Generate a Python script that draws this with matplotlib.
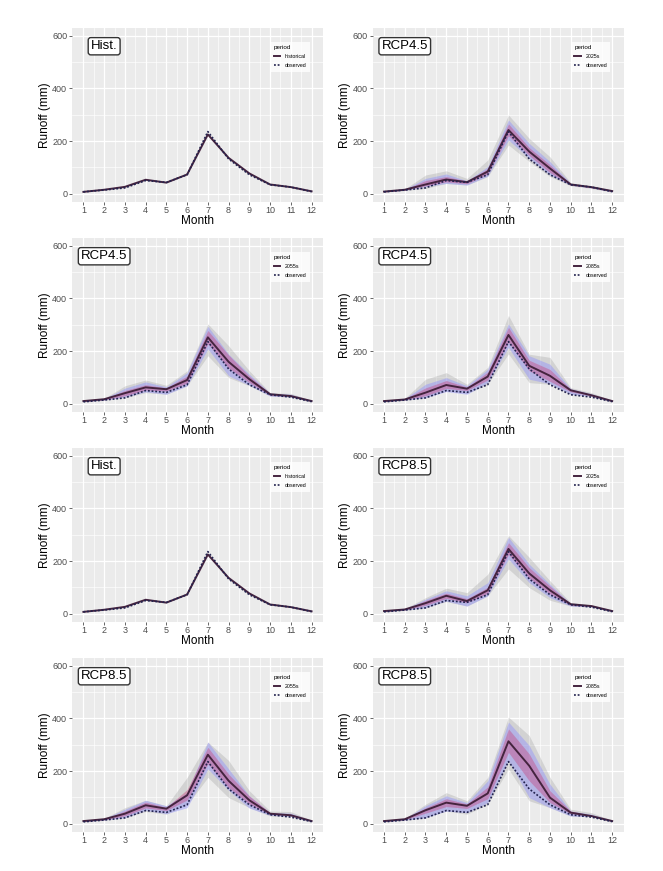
#!/usr/bin/env python3
import matplotlib
matplotlib.use("Agg")
import matplotlib.pyplot as plt
import numpy as np

plt.rcParams['font.family'] = ['Liberation Sans', 'DejaVu Sans']

# Data
MONTHS = list(range(1, 13))
OBSERVED = [7, 14, 22, 50, 43, 72, 236, 132, 72, 34, 25, 8]
HISTORICAL = [7, 15, 26, 53, 42, 73, 225, 136, 77, 35, 25, 9]

# mean line plus three ribbons (grey outer, blue middle, pink inner) per scenario
RCP45_2025 = {
    "mean":    [8, 15, 35, 54, 44, 84, 242, 160, 96, 35, 25, 10],
    "grey_lo": [6, 12, 20, 39, 33, 65, 185, 122, 65, 30, 20, 6],
    "grey_hi": [11, 18, 71, 87, 58, 128, 299, 210, 140, 42, 28, 12],
    "blue_lo": [7, 13, 27, 39, 33, 67, 204, 134, 71, 32, 22, 7],
    "blue_hi": [10, 17, 58, 75, 49, 103, 280, 191, 122, 39, 27, 11],
    "pink_lo": [7, 14, 30, 45, 38, 75, 220, 145, 80, 33, 23, 8],
    "pink_hi": [9, 16, 50, 65, 48, 95, 265, 175, 110, 37, 26, 10],
}
RCP45_2055 = {
    "mean":    [10, 17, 40, 62, 55, 90, 252, 159, 93, 36, 29, 10],
    "grey_lo": [7, 13, 23, 42, 36, 68, 182, 99, 68, 29, 25, 7],
    "grey_hi": [13, 20, 68, 90, 70, 125, 303, 220, 125, 42, 39, 13],
    "blue_lo": [8, 14, 25, 45, 36, 68, 208, 106, 70, 29, 26, 8],
    "blue_hi": [12, 19, 59, 83, 64, 118, 294, 188, 112, 40, 36, 12],
    "pink_lo": [9, 15, 30, 52, 48, 78, 227, 135, 80, 32, 27, 9],
    "pink_hi": [11, 18, 50, 72, 60, 105, 278, 185, 105, 39, 32, 11],
}
RCP45_2085 = {
    "mean":    [10, 16, 42, 71, 57, 103, 261, 144, 106, 51, 32, 10],
    "grey_lo": [7, 13, 23, 48, 38, 74, 189, 80, 74, 36, 27, 7],
    "grey_hi": [13, 20, 93, 118, 74, 138, 335, 188, 176, 61, 42, 13],
    "blue_lo": [8, 14, 23, 46, 36, 80, 214, 93, 76, 36, 28, 8],
    "blue_hi": [12, 19, 74, 99, 68, 131, 303, 182, 150, 57, 38, 12],
    "pink_lo": [9, 15, 30, 58, 50, 90, 233, 125, 85, 45, 30, 9],
    "pink_hi": [11, 18, 60, 88, 63, 120, 290, 165, 130, 55, 35, 11],
}
RCP85_2025 = {
    "mean":    [10, 16, 40, 68, 48, 89, 246, 153, 89, 36, 29, 10],
    "grey_lo": [7, 13, 23, 46, 29, 68, 170, 99, 51, 29, 25, 7],
    "grey_hi": [13, 19, 61, 97, 80, 150, 297, 214, 125, 42, 33, 13],
    "blue_lo": [8, 14, 23, 48, 29, 68, 208, 118, 61, 29, 26, 8],
    "blue_hi": [12, 18, 55, 87, 68, 118, 290, 188, 112, 38, 32, 12],
    "pink_lo": [9, 15, 32, 58, 42, 78, 225, 135, 75, 32, 27, 9],
    "pink_hi": [11, 17, 50, 78, 57, 100, 270, 175, 105, 37, 31, 11],
}
RCP85_2055 = {
    "mean":    [10, 17, 38, 70, 57, 108, 262, 163, 89, 38, 32, 10],
    "grey_lo": [7, 13, 23, 46, 36, 71, 176, 99, 61, 29, 27, 7],
    "grey_hi": [13, 20, 61, 89, 68, 176, 310, 240, 125, 48, 46, 13],
    "blue_lo": [8, 14, 23, 51, 38, 61, 208, 127, 59, 32, 28, 8],
    "blue_hi": [12, 19, 55, 89, 68, 118, 310, 208, 106, 42, 40, 12],
    "pink_lo": [9, 15, 30, 60, 50, 90, 227, 137, 75, 35, 30, 9],
    "pink_hi": [11, 18, 48, 82, 62, 130, 290, 188, 105, 42, 36, 11],
}
RCP85_2085 = {
    "mean":    [10, 17, 51, 80, 68, 115, 313, 220, 99, 42, 29, 10],
    "grey_lo": [7, 13, 23, 48, 36, 74, 208, 87, 61, 29, 27, 7],
    "grey_hi": [13, 20, 74, 118, 87, 176, 405, 335, 176, 55, 42, 13],
    "blue_lo": [8, 14, 23, 48, 42, 80, 240, 99, 61, 29, 27, 8],
    "blue_hi": [12, 19, 68, 106, 80, 163, 386, 297, 150, 48, 36, 12],
    "pink_lo": [9, 15, 40, 65, 58, 95, 271, 163, 80, 38, 28, 9],
    "pink_hi": [11, 18, 60, 95, 75, 140, 360, 265, 125, 48, 32, 11],
}

PANELS = [
    ("Hist.", "historical", None),
    ("RCP4.5", "2025s", RCP45_2025),
    ("RCP4.5", "2055s", RCP45_2055),
    ("RCP4.5", "2085s", RCP45_2085),
    ("Hist.", "historical", None),
    ("RCP8.5", "2025s", RCP85_2025),
    ("RCP8.5", "2055s", RCP85_2055),
    ("RCP8.5", "2085s", RCP85_2085),
]

W, H = 663, 871
MEAN_COLOR = '#45243f'
OBS_COLOR = '#23234f'


def style_axes(ax):
    ax.set_facecolor('#ebebeb')
    for s in ax.spines.values():
        s.set_visible(False)
    ax.set_xlim(0.45, 12.55)
    ax.set_ylim(-30, 630)
    ax.set_xticks(MONTHS)
    ax.set_xticks(np.arange(1.5, 12, 1), minor=True)
    ax.set_yticks([0, 200, 400, 600])
    ax.set_yticks([100, 300, 500], minor=True)
    ax.grid(True, which='major', color='white', linewidth=0.9)
    ax.grid(True, which='minor', color='white', linewidth=0.45)
    ax.set_axisbelow(True)
    ax.tick_params(which='major', length=2, width=0.6, color='#4d4d4d',
                   labelsize=6.5, labelcolor='#4d4d4d', pad=1.5)
    ax.tick_params(which='minor', length=0)
    ax.set_xlabel('Month', fontsize=8.5, labelpad=0)
    ax.set_ylabel('Runoff (mm)', fontsize=8.5, labelpad=1)


def main():
    fig = plt.figure(figsize=(W / 100, H / 100), dpi=100)
    fig.patch.set_facecolor('white')

    lefts = [72, 372.6]
    width = 251
    height = 173.8
    for i, (label, period, d) in enumerate(PANELS):
        row, col = i // 2, i % 2
        top = 27.8 + 210 * row
        ax = fig.add_axes([lefts[col] / W, 1 - (top + height) / H, width / W, height / H])
        style_axes(ax)

        if d is None:
            ax.plot(MONTHS, HISTORICAL, '-', color=MEAN_COLOR, linewidth=1.4, label=period)
        else:
            ax.fill_between(MONTHS, d["grey_lo"], d["grey_hi"], color='#999999', alpha=0.3, linewidth=0)
            ax.fill_between(MONTHS, d["blue_lo"], d["blue_hi"], color='#8c8cff', alpha=0.42, linewidth=0)
            ax.fill_between(MONTHS, d["pink_lo"], d["pink_hi"], color='#c8407a', alpha=0.4, linewidth=0)
            ax.plot(MONTHS, d["mean"], '-', color=MEAN_COLOR, linewidth=1.4, label=period)
        ax.plot(MONTHS, OBSERVED, linestyle=(0, (1.1, 1.1)), color=OBS_COLOR,
                linewidth=1.2, label='observed')

        ax.text(2, 560, label, ha='center', va='center', fontsize=9.5,
                bbox=dict(boxstyle='round,pad=0.2', facecolor='white',
                          edgecolor='#333333', linewidth=1.0))

        leg = ax.legend(title='period', loc='upper left', bbox_to_anchor=(0.78, 0.935),
                        fontsize=3.8, title_fontsize=4.5, frameon=True, fancybox=False,
                        handlelength=1.3, borderpad=0.6, labelspacing=0.8,
                        alignment='left')
        leg.get_frame().set_edgecolor('white')
        leg.get_frame().set_linewidth(0)

    plt.savefig('out.png', dpi=100)


if __name__ == "__main__":
    main()
